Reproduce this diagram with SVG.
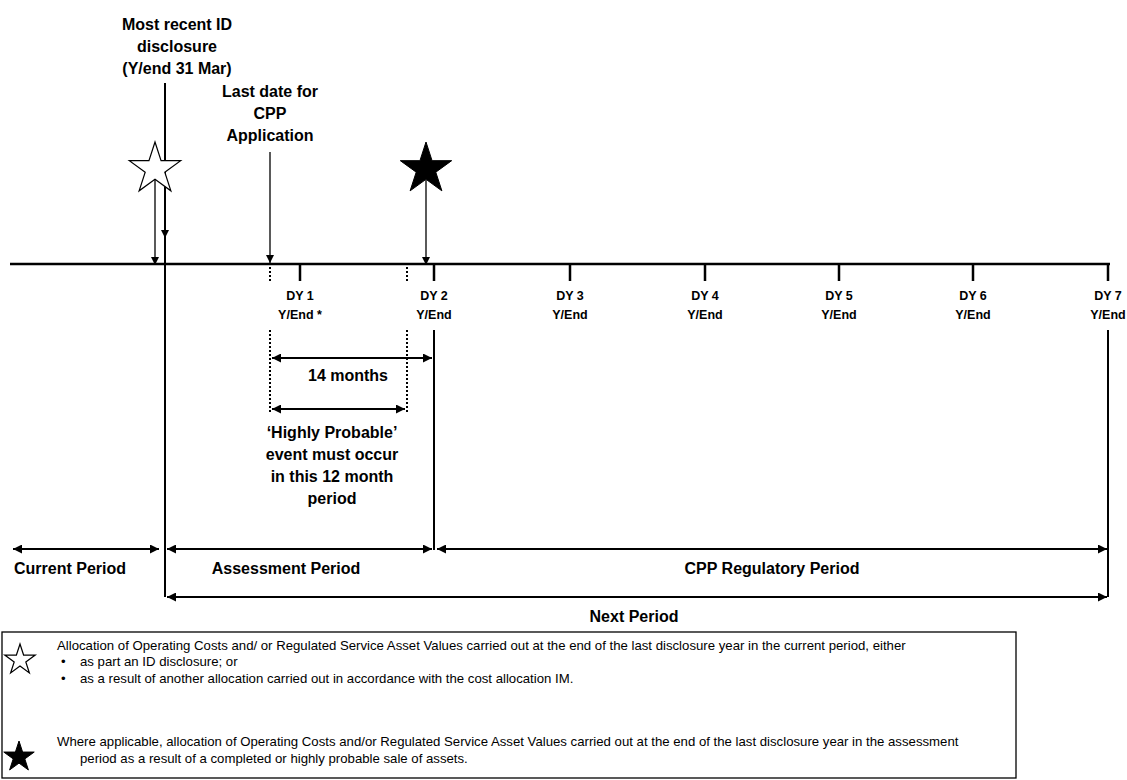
<svg xmlns="http://www.w3.org/2000/svg" width="1127" height="780" viewBox="0 0 1127 780">
<style>
.lbl{font-family:"Liberation Sans",Arial,sans-serif;font-weight:bold;font-size:16px;fill:#000;text-anchor:middle}
.dy{font-family:"Liberation Sans",Arial,sans-serif;font-weight:bold;font-size:12.5px;fill:#000;text-anchor:middle}
.leg{font-family:"Liberation Sans",Arial,sans-serif;font-size:13.2px;fill:#000}
.thick{stroke:#000;stroke-width:2;fill:none}
.axis{stroke:#000;stroke-width:2.5;fill:none}
.thin{stroke:#000;stroke-width:1.3;fill:none}
.dot{stroke:#000;stroke-width:2;stroke-dasharray:2 2;fill:none}
.sw{fill:#fff;stroke:#000;stroke-width:1.2}
.sb{fill:#000;stroke:#000;stroke-width:1}
</style>
<defs>
<marker id="ah" viewBox="0 0 10 10" refX="10" refY="5" markerWidth="10" markerHeight="9" markerUnits="userSpaceOnUse" orient="auto-start-reverse"><path d="M0,0 L10,5 L0,10 z" fill="#000"/></marker>
<marker id="ahs" viewBox="0 0 10 10" refX="10" refY="5" markerWidth="9" markerHeight="8" markerUnits="userSpaceOnUse" orient="auto"><path d="M0,0 L10,5 L0,10 z" fill="#000"/></marker>
<polygon id="starL" points="0,-27 6.05,-8.33 25.68,-8.34 9.8,3.18 15.87,21.84 0,10.3 -15.87,21.84 -9.8,3.18 -25.68,-8.34 -6.05,-8.33"/>
<polygon id="starS" points="0,-16 3.6,-4.95 15.22,-4.94 5.81,1.89 9.4,12.94 0,6.11 -9.4,12.94 -5.81,1.89 -15.22,-4.94 -3.6,-4.95"/>
</defs>
<rect width="1127" height="780" fill="#fff"/>

<g id="connectors">
  <path class="axis" d="M10,264 H1110"/>
  <path class="axis" d="M300,264 V281 M434,264 V281 M570,264 V281 M705,264 V281 M839,264 V281 M973,264 V281 M1108,264 V281"/>
  <path class="dot" d="M270,267 V282 M407,267 V282"/>
  <path class="thick" d="M165,83 V238" marker-end="url(#ahs)"/>
  <path class="thick" d="M165,236 V597"/>
  <path class="thin" d="M155,179 V265" marker-end="url(#ahs)"/>
  <path class="thin" d="M270,152 V263" marker-end="url(#ahs)"/>
  <path class="thin" d="M426,180 V265" marker-end="url(#ahs)"/>
  <path class="dot" d="M270,330 V412 M407,330 V412"/>
  <path class="thick" d="M434,330 V550"/>
  <path class="thick" d="M1108,330 V597"/>
  <path class="thick" d="M272,358 H432" marker-start="url(#ah)" marker-end="url(#ah)"/>
  <path class="thick" d="M272,409 H405" marker-start="url(#ah)" marker-end="url(#ah)"/>
  <path class="thick" d="M13,549 H159" marker-start="url(#ah)" marker-end="url(#ah)"/>
  <path class="thick" d="M167,549 H432" marker-start="url(#ah)" marker-end="url(#ah)"/>
  <path class="thick" d="M437,549 H1107" marker-start="url(#ah)" marker-end="url(#ah)"/>
  <path class="thick" d="M167,597 H1107" marker-start="url(#ah)" marker-end="url(#ah)"/>
</g>

<g id="star-id">
  <use href="#starL" x="155" y="169" class="sw"/>
</g>
<g id="star-sale">
  <use href="#starL" x="426" y="169" class="sb"/>
</g>

<g id="label-id">
  <text class="lbl" x="177" y="30">Most recent ID</text>
  <text class="lbl" x="177" y="52">disclosure</text>
  <text class="lbl" x="177" y="74">(Y/end 31 Mar)</text>
</g>
<g id="label-cpp">
  <text class="lbl" x="270" y="97">Last date for</text>
  <text class="lbl" x="270" y="119">CPP</text>
  <text class="lbl" x="270" y="141">Application</text>
</g>

<g id="dy1"><text class="dy" x="300" y="300">DY 1</text><text class="dy" x="300" y="319">Y/End *</text></g>
<g id="dy2"><text class="dy" x="434" y="300">DY 2</text><text class="dy" x="434" y="319">Y/End</text></g>
<g id="dy3"><text class="dy" x="570" y="300">DY 3</text><text class="dy" x="570" y="319">Y/End</text></g>
<g id="dy4"><text class="dy" x="705" y="300">DY 4</text><text class="dy" x="705" y="319">Y/End</text></g>
<g id="dy5"><text class="dy" x="839" y="300">DY 5</text><text class="dy" x="839" y="319">Y/End</text></g>
<g id="dy6"><text class="dy" x="973" y="300">DY 6</text><text class="dy" x="973" y="319">Y/End</text></g>
<g id="dy7"><text class="dy" x="1108" y="300">DY 7</text><text class="dy" x="1108" y="319">Y/End</text></g>

<g id="label-14"><text class="lbl" x="348" y="381">14 months</text></g>
<g id="label-hp">
  <text class="lbl" x="332" y="438">‘Highly Probable’</text>
  <text class="lbl" x="332" y="460">event must occur</text>
  <text class="lbl" x="332" y="482">in this 12 month</text>
  <text class="lbl" x="332" y="504">period</text>
</g>

<g id="label-current"><text class="lbl" x="14" y="574" style="text-anchor:start">Current Period</text></g>
<g id="label-assessment"><text class="lbl" x="286" y="574">Assessment Period</text></g>
<g id="label-cppreg"><text class="lbl" x="772" y="574">CPP Regulatory Period</text></g>
<g id="label-next"><text class="lbl" x="634" y="622">Next Period</text></g>

<g id="legend">
  <rect x="2" y="632" width="1014" height="146" fill="none" stroke="#000" stroke-width="1.3"/>
  <use href="#starS" x="20" y="660" class="sw"/>
  <use href="#starS" x="19" y="757" class="sb"/>
  <text class="leg" x="57" y="650">Allocation of Operating Costs and/ or Regulated Service Asset Values carried out at the end of the last disclosure year in the current period, either</text>
  <text class="leg" x="61" y="666">•</text>
  <text class="leg" x="80" y="666">as part an ID disclosure; or</text>
  <text class="leg" x="61" y="683">•</text>
  <text class="leg" x="80" y="683">as a result of another allocation carried out in accordance with the cost allocation IM.</text>
  <text class="leg" x="57" y="746">Where applicable, allocation of Operating Costs and/or Regulated Service Asset Values carried out at the end of the last disclosure year in the assessment</text>
  <text class="leg" x="80" y="763">period as a result of a completed or highly probable sale of assets.</text>
</g>
</svg>
